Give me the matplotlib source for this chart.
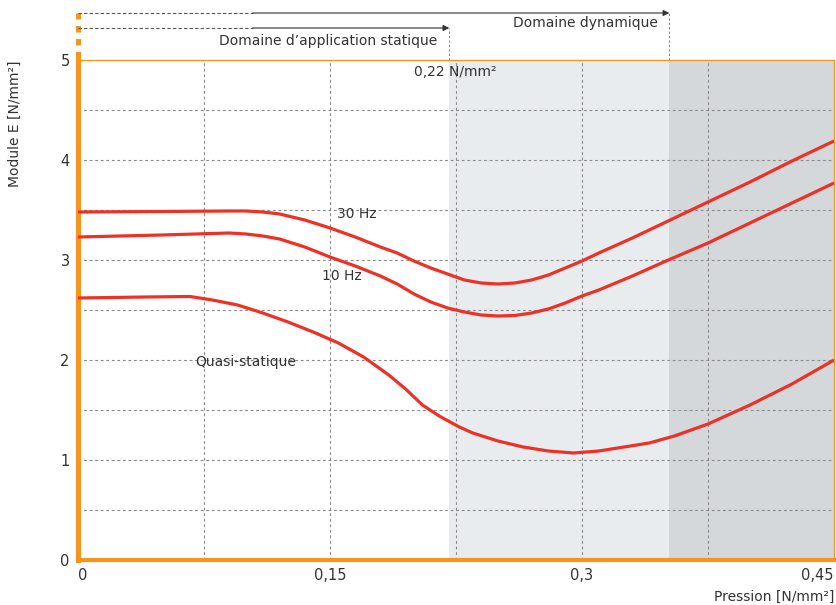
import matplotlib
matplotlib.use("Agg")
import matplotlib.pyplot as plt

# pression [N/mm2] et module E [N/mm2]
x_30hz = [0, 0.05, 0.09, 0.1, 0.11, 0.12, 0.135, 0.15, 0.165, 0.18, 0.19, 0.2, 0.21, 0.22, 0.23, 0.24,
          0.25, 0.26, 0.27, 0.28, 0.29, 0.3, 0.31, 0.33, 0.35, 0.375, 0.4, 0.425, 0.45]
y_30hz = [3.48, 3.485, 3.49, 3.49, 3.48, 3.46, 3.40, 3.32, 3.23, 3.13, 3.07, 2.99, 2.92, 2.86, 2.80, 2.77,
          2.76, 2.77, 2.80, 2.85, 2.92, 2.99, 3.07, 3.22, 3.38, 3.58, 3.78, 3.99, 4.19]

x_10hz = [0, 0.05, 0.09, 0.1, 0.11, 0.12, 0.135, 0.15, 0.165, 0.18, 0.19, 0.2, 0.21, 0.22, 0.23, 0.24,
          0.25, 0.26, 0.27, 0.28, 0.29, 0.3, 0.31, 0.33, 0.35, 0.375, 0.4, 0.425, 0.45]
y_10hz = [3.23, 3.25, 3.27, 3.26, 3.24, 3.21, 3.13, 3.03, 2.94, 2.84, 2.76, 2.66, 2.58, 2.52, 2.48, 2.45,
          2.44, 2.445, 2.47, 2.51, 2.57, 2.64, 2.70, 2.84, 2.99, 3.17, 3.37, 3.57, 3.77]

x_qs = [0, 0.04, 0.0667, 0.08, 0.095, 0.11, 0.125, 0.14, 0.155, 0.17, 0.185, 0.195, 0.205, 0.215, 0.227,
        0.235, 0.25, 0.265, 0.28, 0.295, 0.31, 0.325, 0.34, 0.355, 0.375, 0.4, 0.425, 0.45]
y_qs = [2.62, 2.63, 2.635, 2.60, 2.55, 2.47, 2.38, 2.28, 2.17, 2.03, 1.85, 1.71, 1.55, 1.44, 1.33,
        1.27, 1.19, 1.13, 1.09, 1.07, 1.09, 1.13, 1.17, 1.24, 1.36, 1.55, 1.76, 2.00]

x_ticks = [0, 0.15, 0.3, 0.45]
x_tick_labels = ["0", "0,15", "0,3", "0,45"]
y_ticks = [0, 1, 2, 3, 4, 5]

limite_statique = 0.221
limite_dynamique = 0.352

orange = "#F7941D"
rouge = "#EE3124"
texte = "#333333"
plt.rcParams["font.family"] = ["DejaVu Sans"]

fig = plt.figure(figsize=(8.36, 6.05), dpi=100)
ax = fig.add_axes([78 / 836, 45 / 605, 756 / 836, 500 / 605])
ax.set_xlim(0, 0.45)
ax.set_ylim(0, 5)

# zones grisees
ax.axvspan(limite_statique, limite_dynamique, color="#E8ECEF", lw=0, zorder=0)
ax.axvspan(limite_dynamique, 0.45, color="#D4D8DB", lw=0, zorder=0)

# grille
for gx in [0.075, 0.15, 0.225, 0.3, 0.375]:
    ax.axvline(gx, color="#8a8a8a", lw=0.8, ls=(0, (2.5, 2.5)), zorder=1)
for gy in [0.5, 1, 1.5, 2, 2.5, 3, 3.5, 4, 4.5]:
    ax.axhline(gy, color="#8a8a8a", lw=0.8, ls=(0, (2.5, 2.5)), zorder=1)

# courbes
for xs, ys in [(x_30hz, y_30hz), (x_10hz, y_10hz), (x_qs, y_qs)]:
    ax.plot(xs, ys, color=rouge, lw=2.3, solid_capstyle="butt", solid_joinstyle="round", zorder=3)

ax.text(0.154, 3.42, "30 Hz", fontsize=10, color=texte)
ax.text(0.145, 2.80, "10 Hz", fontsize=10, color=texte)
ax.text(0.07, 1.94, "Quasi-statique", fontsize=10, color=texte)
ax.text(0.200, 4.84, "0,22 N/mm²", fontsize=10, color=texte)

# axes
for s in ["top", "right"]:
    ax.spines[s].set_color(orange)
    ax.spines[s].set_linewidth(0.9)
ax.spines["left"].set_color(orange)
ax.spines["left"].set_linewidth(3.6)
ax.spines["bottom"].set_color(orange)
ax.spines["bottom"].set_linewidth(3.0)

ax.set_xticks(x_ticks)
ax.set_xticklabels(x_tick_labels)
ax.set_yticks(y_ticks)
ax.tick_params(length=0, labelsize=10.5, colors=texte, pad=6)
ax.get_xticklabels()[0].set_horizontalalignment("left")
ax.get_xticklabels()[-1].set_horizontalalignment("right")

fig.text(15 / 836, 1 - 124 / 605, "Module E [N/mm²]", rotation=90, fontsize=10,
         color=texte, ha="center", va="center")
fig.text(834 / 836, 1 - 597 / 605, "Pression [N/mm²]", fontsize=10,
         color=texte, ha="right", va="center")

# fleches des domaines en haut
ax.plot([0, 0], [5.02, 5.47], color=orange, lw=3.6, ls=(0, (1.3, 1.3)), clip_on=False)
y_dyn, y_stat = 5.47, 5.32
x_coupe = 0.104
for yy, xe in [(y_dyn, limite_dynamique), (y_stat, limite_statique)]:
    ax.plot([0, x_coupe], [yy, yy], color="#555555", lw=0.8, ls=(0, (3, 2)), clip_on=False)
    ax.annotate("", xy=(xe, yy), xytext=(x_coupe, yy), annotation_clip=False,
                arrowprops=dict(arrowstyle="-|>", color="#333333", lw=0.8,
                                mutation_scale=9, shrinkA=0, shrinkB=0))
    ax.plot([xe, xe], [5, yy], color="#888888", lw=0.8, ls=(0, (2, 2)), clip_on=False)

ax.text(0.214, 5.19, "Domaine d’application statique", fontsize=10, color=texte,
        ha="right", va="center")
ax.text(0.345, 5.37, "Domaine dynamique", fontsize=10, color=texte,
        ha="right", va="center")

fig.savefig("out.png", dpi=100)
